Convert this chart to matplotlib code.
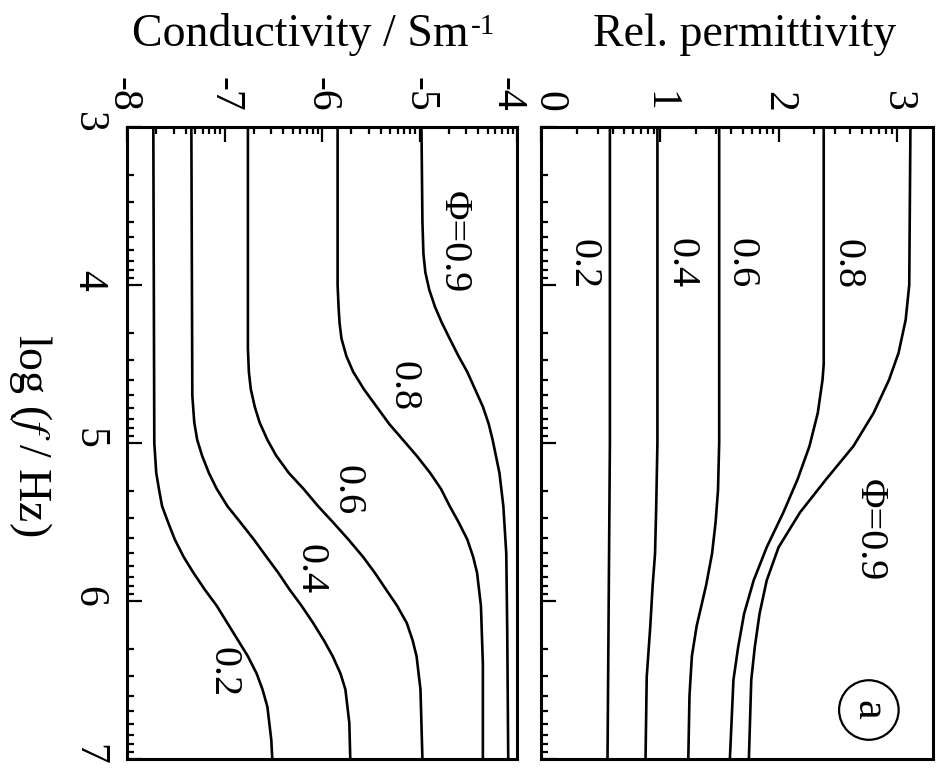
import numpy as np
import matplotlib
matplotlib.use("Agg")
import matplotlib.pyplot as plt
from matplotlib.ticker import FixedLocator
from matplotlib.transforms import ScaledTranslation

plt.rcParams["font.family"] = ["Liberation Serif", "DejaVu Serif"]
plt.rcParams["mathtext.fontset"] = "stix"
plt.rcParams["axes.unicode_minus"] = False

# volume fraction labels
PHI = ["0.2", "0.4", "0.6", "0.8", "0.9"]

# conductivity panel: log f and log sigma, one list per phi
cond_lf = {
    "0.9": [3.0, 3.6, 3.8, 3.92, 4.03, 4.14, 4.24, 4.34, 4.45, 4.55, 4.66, 4.77, 4.88, 4.98,
            5.19, 5.40, 5.7, 6.2, 7.0],
    "0.8": [3.0, 4.0, 4.14, 4.24, 4.34, 4.45, 4.55, 4.66, 4.77, 4.88, 4.98, 5.08, 5.19, 5.29,
            5.40, 5.50, 5.61, 5.72, 5.82, 6.03, 6.4, 7.0],
    "0.6": [3.0, 4.4, 4.55, 4.66, 4.77, 4.87, 4.98, 5.08, 5.19, 5.29, 5.40, 5.50, 5.61, 5.72,
            5.82, 5.93, 6.03, 6.14, 6.25, 6.35, 6.56, 7.0],
    "0.4": [3.0, 4.7, 4.87, 4.98, 5.08, 5.19, 5.29, 5.40, 5.50, 5.61, 5.72, 5.82, 5.93, 6.03,
            6.14, 6.25, 6.35, 6.46, 6.56, 6.77, 7.0],
    "0.2": [3.0, 5.0, 5.19, 5.30, 5.40, 5.50, 5.61, 5.72, 5.82, 5.93, 6.03, 6.14, 6.25, 6.35,
            6.46, 6.56, 6.67, 6.88, 7.0],
}
cond_val = {
    "0.9": [-4.98, -4.97, -4.96, -4.94, -4.90, -4.84, -4.77, -4.69, -4.60, -4.51, -4.43, -4.35,
            -4.29, -4.25, -4.18, -4.14, -4.11, -4.10, -4.09],
    "0.8": [-5.84, -5.84, -5.83, -5.82, -5.80, -5.75, -5.68, -5.57, -5.44, -5.31, -5.17, -5.03,
            -4.89, -4.78, -4.69, -4.60, -4.51, -4.45, -4.41, -4.37, -4.35, -4.35],
    "0.6": [-6.76, -6.76, -6.75, -6.73, -6.69, -6.64, -6.56, -6.47, -6.34, -6.19, -6.04, -5.89,
            -5.73, -5.58, -5.46, -5.34, -5.23, -5.13, -5.07, -5.03, -4.99, -4.97],
    "0.4": [-7.34, -7.33, -7.31, -7.28, -7.23, -7.16, -7.08, -6.97, -6.84, -6.70, -6.57, -6.45,
            -6.33, -6.21, -6.09, -5.98, -5.89, -5.81, -5.76, -5.72, -5.71],
    "0.2": [-7.73, -7.72, -7.70, -7.67, -7.64, -7.58, -7.51, -7.42, -7.32, -7.20, -7.08, -6.97,
            -6.86, -6.76, -6.67, -6.61, -6.56, -6.52, -6.51],
}

# permittivity panel
perm_lf = {
    "0.9": [3.0, 4.0, 4.22, 4.43, 4.6, 4.81, 5.02, 5.23, 5.44, 5.66, 5.87, 6.08, 6.29, 6.50, 7.0],
    "0.8": [3.0, 4.5, 4.6, 4.81, 5.02, 5.23, 5.44, 5.66, 5.87, 6.08, 6.29, 6.50, 7.0],
    "0.6": [3.0, 5.0, 5.3, 5.5, 5.7, 5.9, 6.16, 6.35, 6.6, 7.0],
    "0.4": [3.0, 5.0, 5.4, 5.7, 5.9, 6.16, 6.48, 7.0],
    "0.2": [3.0, 5.0, 6.0, 7.0],
}
perm_val = {
    "0.9": [3.11, 3.10, 3.07, 3.01, 2.93, 2.80, 2.63, 2.40, 2.18, 2.00, 1.90, 1.84, 1.80, 1.77, 1.75],
    "0.8": [2.38, 2.38, 2.37, 2.33, 2.26, 2.16, 2.04, 1.90, 1.79, 1.71, 1.66, 1.62, 1.59],
    "0.6": [1.50, 1.50, 1.49, 1.47, 1.44, 1.39, 1.31, 1.27, 1.25, 1.24],
    "0.4": [0.98, 0.98, 0.97, 0.96, 0.94, 0.92, 0.89, 0.88],
    "0.2": [0.58, 0.58, 0.57, 0.56],
}

# curve labels: (text, value, log f)
cond_labels = [("\u03a6=0.9", -4.65, 3.73), ("0.8", -5.17, 4.64), ("0.6", -5.74, 5.30),
               ("0.4", -6.12, 5.80), ("0.2", -7.02, 6.45)]
perm_labels = [("0.8", 2.58, 3.87), ("0.6", 1.68, 3.86), ("0.4", 1.18, 3.86),
               ("0.2", 0.35, 3.87), ("\u03a6=0.9", 2.76, 5.55)]

FREQ_TICKS = [3, 4, 5, 6, 7]
COND_TICKS = [-8, -7, -6, -5, -4]
PERM_TICKS = [0, 1, 2, 3]

W, H = 936, 775


def log_minor(lo, hi):
    out = []
    for d in range(int(np.floor(lo)), int(np.ceil(hi))):
        out += [d + np.log10(k) for k in range(2, 10)]
    return [m for m in out if lo < m < hi]


def style(ax, xlim, xticks):
    ax.set_xlim(*xlim)
    ax.set_ylim(7, 3)
    ax.xaxis.tick_top()
    ax.xaxis.set_major_locator(FixedLocator(xticks))
    ax.xaxis.set_minor_locator(FixedLocator(log_minor(*xlim)))
    ax.yaxis.set_major_locator(FixedLocator(FREQ_TICKS))
    ax.yaxis.set_minor_locator(FixedLocator(log_minor(3, 7)))
    ax.set_xticklabels([str(t) for t in xticks])
    ax.tick_params(which="both", direction="in", top=True, bottom=False,
                   left=True, right=False, width=1.6)
    ax.tick_params(which="major", length=11)
    ax.tick_params(which="minor", length=5)
    ax.tick_params(axis="x", labelsize=30, labelrotation=-90, pad=11)
    ax.tick_params(axis="y", labelsize=30, labelrotation=-90, pad=14)
    for s in ax.spines.values():
        s.set_linewidth(2.2)


def nudge(label, dx_px, fig):
    label.set_transform(label.get_transform() +
                        ScaledTranslation(dx_px / 100, 0, fig.dpi_scale_trans))


def main():
    fig = plt.figure(figsize=(W / 100, H / 100), dpi=100)
    top, bot = 127, 759
    ax1 = fig.add_axes([127 / W, 1 - bot / H, 390 / W, (bot - top) / H])
    ax2 = fig.add_axes([541 / W, 1 - bot / H, 392 / W, (bot - top) / H])

    for p in PHI:
        ax1.plot(cond_val[p], cond_lf[p], color="black", lw=1.9)
        ax2.plot(perm_val[p], perm_lf[p], color="black", lw=1.9)

    style(ax1, (-8, -4), COND_TICKS)
    style(ax2, (0, 3.3), PERM_TICKS)
    ax2.tick_params(axis="y", labelleft=False)

    # the end labels sit a little inward in the original
    nudge(ax1.get_xticklabels()[0], -4, fig)
    nudge(ax1.get_xticklabels()[-1], -10, fig)
    nudge(ax2.get_xticklabels()[0], 8, fig)

    for txt, x, y in cond_labels:
        ax1.text(x, y, txt, rotation=-90, ha="center", va="center", fontsize=29)
    for txt, x, y in perm_labels:
        ax2.text(x, y, txt, rotation=-90, ha="center", va="center", fontsize=29)
    ax2.text(2.76, 6.69, "a", rotation=-90, ha="center", va="center", fontsize=32,
             bbox=dict(boxstyle="circle,pad=0.22", fc="white", ec="black", lw=1.6))

    # axis titles, with a small hyphen-style superscript like the original
    cond = fig.text(300 / W, 1 - 35 / H, "Conductivity / Sm", ha="center", va="center",
                    fontsize=33)
    ax1.annotate("-1", xy=(1.0, 0.98), xycoords=cond, xytext=(2, 0),
                 textcoords="offset points", ha="left", va="top", fontsize=21)
    fig.text(745 / W, 1 - 35 / H, "Rel. permittivity", ha="center", va="center", fontsize=33)
    fig.text(30 / W, 1 - 435 / H, "log ($f$ / Hz)", ha="center", va="center",
             rotation=-90, fontsize=33)

    fig.savefig("out.png", dpi=100)


if __name__ == "__main__":
    main()
